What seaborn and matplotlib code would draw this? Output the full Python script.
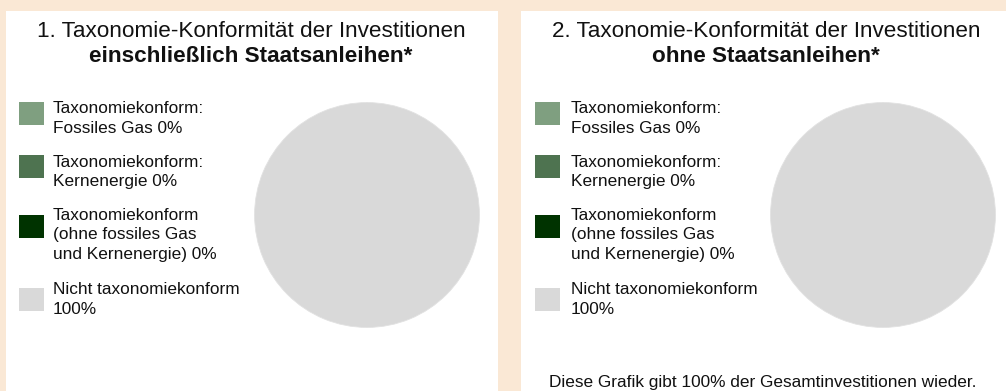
import matplotlib
matplotlib.use("Agg")
import matplotlib.pyplot as plt
from matplotlib.patches import Rectangle
import seaborn as sns

# Chart content
panel_titles = [
    "1. Taxonomie-Konformität der Investitionen",
    "2. Taxonomie-Konformität der Investitionen",
]
panel_subtitles = ["einschließlich Staatsanleihen*", "ohne Staatsanleihen*"]
categories = [
    "Taxonomiekonform:\nFossiles Gas",
    "Taxonomiekonform:\nKernenergie",
    "Taxonomiekonform\n(ohne fossiles Gas\nund Kernenergie)",
    "Nicht taxonomiekonform\n",
]
shares_incl_bonds = [0, 0, 0, 100]
shares_excl_bonds = [0, 0, 0, 100]
footnote = "Diese Grafik gibt 100% der Gesamtinvestitionen wieder."

palette = sns.color_palette(["#7F9F80", "#4E7350", "#003300", "#D9D9D9"])
BG = "#FAE8D5"

sns.set_theme(style="white")
plt.rcParams["font.family"] = ["Liberation Sans", "DejaVu Sans"]

W, H = 1006, 391
fig = plt.figure(figsize=(W / 100, H / 100), dpi=100, facecolor=BG)


def fx(x):
    return x / W


def fy(y):
    return 1 - y / H


# panel geometry in pixels
panels = [
    dict(left=6, right=498, title_x=251, sq_x=19, txt_x=53, pie_cx=367),
    dict(left=521, right=1013, title_x=766, sq_x=535, txt_x=571, pie_cx=883),
]
entry_sq_top = [102, 155, 215, 288]
entry_first_baseline = [113, 166.3, 219.3, 294]
line_pitch = 19.7
sq_w, sq_h = 25, 23
pie_cy, pie_r = 215, 113

for panel, title, sub, shares in zip(
    panels, panel_titles, panel_subtitles, [shares_incl_bonds, shares_excl_bonds]
):
    fig.patches.append(
        Rectangle((fx(panel["left"]), 0), fx(panel["right"] - panel["left"]),
                  fy(11), transform=fig.transFigure, facecolor="white",
                  edgecolor="none", zorder=-1)
    )
    fig.text(fx(panel["title_x"]), fy(37.3), title, ha="center", va="baseline",
             fontsize=16.2, color="#111111")
    fig.text(fx(panel["title_x"]), fy(62.3), sub, ha="center", va="baseline",
             fontsize=16.2, fontweight="bold", color="#111111")

    for label, val, col, top, base in zip(categories, shares, palette,
                                          entry_sq_top, entry_first_baseline):
        fig.patches.append(
            Rectangle((fx(panel["sq_x"]), fy(top + sq_h)), fx(sq_w), sq_h / H,
                      transform=fig.transFigure, facecolor=col,
                      edgecolor="none", zorder=2)
        )
        text = f"{label} {val}%".replace("\n ", "\n")
        n_lines = text.count("\n") + 1
        # multi-line text with va="baseline" is anchored on its last line
        fig.text(fx(panel["txt_x"]), fy(base + (n_lines - 1) * line_pitch), text,
                 ha="left", va="baseline", fontsize=12.4, linespacing=1.36,
                 color="#111111")

    ax = fig.add_axes([fx(panel["pie_cx"] - pie_r), fy(pie_cy + pie_r),
                       fx(2 * pie_r), 2 * pie_r / H])
    ax.pie(shares, colors=palette, startangle=90, counterclock=False,
           wedgeprops=dict(edgecolor="#E2E2E2", linewidth=0.6))
    ax.set_xlim(-1.005, 1.005)
    ax.set_ylim(-1.005, 1.005)
    ax.set_aspect("equal")
    ax.axis("off")

fig.text(fx(763), fy(387), footnote, ha="center", va="baseline",
         fontsize=12.4, color="#111111")

fig.savefig("out.png", dpi=100, facecolor=BG)
